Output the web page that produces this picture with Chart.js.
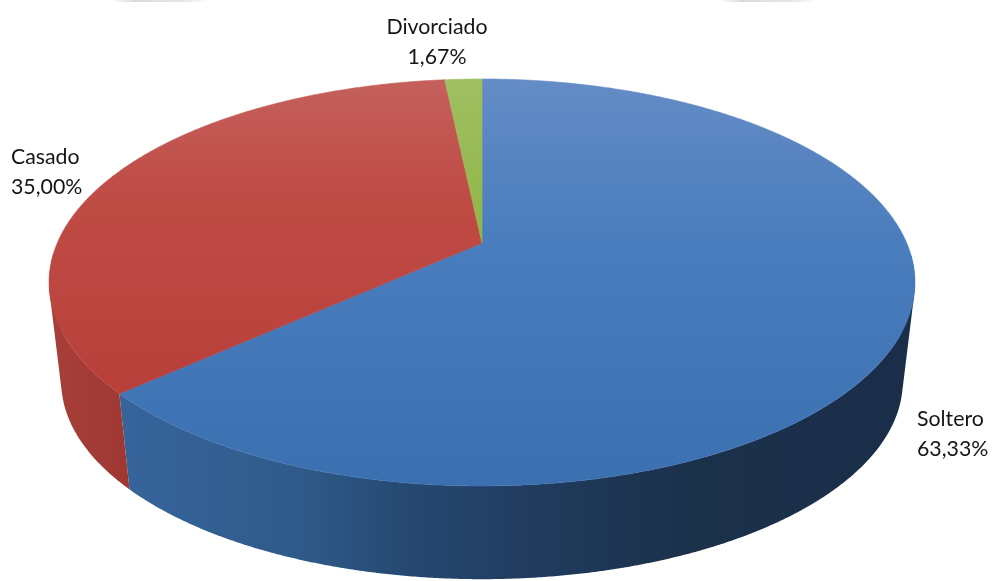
<!DOCTYPE html>
<html>
<head>
<meta charset="utf-8">
<style>
html,body{margin:0;padding:0;background:#fff;overflow:hidden}
#wrap{position:relative;width:992px;height:581px}
canvas{display:block}
.smudge{position:absolute;top:0;height:2px;background:linear-gradient(90deg,#fff,#d9dcd6 25%,#e6e8e2 75%,#fff)}
</style>
<script src="https://cdn.jsdelivr.net/npm/chart.js@4"></script>
</head>
<body>
<div id="wrap">
<canvas id="c" width="992" height="581"></canvas>
<div class="smudge" style="left:110px;width:100px"></div>
<div class="smudge" style="left:718px;width:98px"></div>
</div>
<script>
const categories = ['Soltero', 'Casado', 'Divorciado'];
const shares = [63.33, 35.00, 1.67];

// Perspective of the disc: unit circle -> screen
const disc = { cx: 482, cy: 243, a: 424.7, b: 148.7, k: -0.194, depth: 100, shrink: 0.972 };

const topStops = [
  [[80,'#648cc6'],[240,'#4a7dbd'],[486,'#3b70b0']],
  [[80,'#c4605c'],[190,'#c04c46'],[400,'#b83f3a']],
  [[80,'#a0bf62'],[243,'#8fb546']]
];
const wallStops = [
  [[121,'#36649b'],[300,'#2f5a8a'],[400,'#264a72'],[500,'#223e63'],[700,'#1b3049'],[905,'#1a2e4a']],
  [[50,'#a83e38'],[131,'#9e3833']],
  [[440,'#71893a'],[482,'#71893a']]
];
const labelAnchors = [
  { x: 917, y: 426, align: 'left' },
  { x: 11, y: 164, align: 'left' },
  { x: 437, y: 34, align: 'center' }
];

function project(ang, lower) {
  const x = Math.cos(ang), y = Math.sin(ang);
  const w = 1 + disc.k * y;
  const sx = disc.a * x / w;
  const py = (disc.b * y + disc.cy) / w;
  if (!lower) return [disc.cx + sx, py];
  return [disc.cx + disc.shrink * sx, disc.cy + disc.depth + disc.shrink * (py - disc.cy)];
}

function gradient(ctx, stops, horizontal) {
  const first = stops[0][0], last = stops[stops.length - 1][0];
  const g = horizontal ? ctx.createLinearGradient(first, 0, last, 0) : ctx.createLinearGradient(0, first, 0, last);
  stops.forEach(s => g.addColorStop((s[0] - first) / (last - first), s[1]));
  return g;
}

function angles(a0, a1) {
  const n = Math.max(2, Math.ceil(Math.abs(a1 - a0) / 0.005));
  const list = [];
  for (let i = 0; i <= n; i++) list.push(a0 + (a1 - a0) * i / n);
  return list;
}

function addQuad(ctx, q) {
  let area = 0;
  q.forEach((p, i) => { const r = q[(i + 1) % 4]; area += p[0] * r[1] - r[0] * p[1]; });
  const pts = area < 0 ? q.slice().reverse() : q;
  pts.forEach((p, i) => i ? ctx.lineTo(p[0], p[1]) : ctx.moveTo(p[0], p[1]));
  ctx.closePath();
}

const pie3d = {
  id: 'pie3d',
  beforeDatasetDraw(chart, args) {
    const ctx = chart.ctx, arcs = chart.getDatasetMeta(args.index).data;
    ctx.save();
    ctx.lineJoin = 'round';
    // outer walls: swept rim, front-facing part only
    arcs.forEach((arc, i) => {
      const list = angles(arc.startAngle, arc.endAngle);
      ctx.beginPath();
      for (let j = 0; j < list.length - 1; j++) {
        if (Math.sin(list[j]) < 0.05) continue;
        addQuad(ctx, [project(list[j], false), project(list[j + 1], false),
                      project(list[j + 1], true), project(list[j], true)]);
      }
      ctx.fillStyle = gradient(ctx, wallStops[i], true);
      ctx.fill('nonzero');
    });
    // upper faces
    arcs.forEach((arc, i) => {
      ctx.beginPath();
      ctx.moveTo(disc.cx, disc.cy);
      angles(arc.startAngle, arc.endAngle).forEach(a => {
        const p = project(a, false);
        ctx.lineTo(p[0], p[1]);
      });
      ctx.closePath();
      ctx.fillStyle = ctx.strokeStyle = gradient(ctx, topStops[i], false);
      ctx.lineWidth = 0.6;
      ctx.fill();
      ctx.stroke();
    });
    ctx.restore();
    return false;
  },
  afterDatasetsDraw(chart) {
    const ctx = chart.ctx;
    ctx.save();
    ctx.fillStyle = '#151515';
    ctx.font = '21.3px Lato, "Open Sans", sans-serif';
    ctx.textBaseline = 'alphabetic';
    categories.forEach((name, i) => {
      const a = labelAnchors[i];
      ctx.textAlign = a.align;
      ctx.fillText(name, a.x, a.y);
      ctx.fillText(shares[i].toFixed(2).replace('.', ',') + '%', a.x, a.y + 30);
    });
    ctx.restore();
  }
};

new Chart(document.getElementById('c'), {
  type: 'pie',
  data: {
    labels: categories,
    datasets: [{ data: shares, backgroundColor: ['#4a7ebb', '#be4b48', '#98b954'], borderWidth: 0 }]
  },
  options: {
    responsive: false,
    animation: false,
    plugins: { legend: { display: false }, tooltip: { enabled: false }, title: { display: false } }
  },
  plugins: [pie3d]
});
</script>
</body>
</html>
